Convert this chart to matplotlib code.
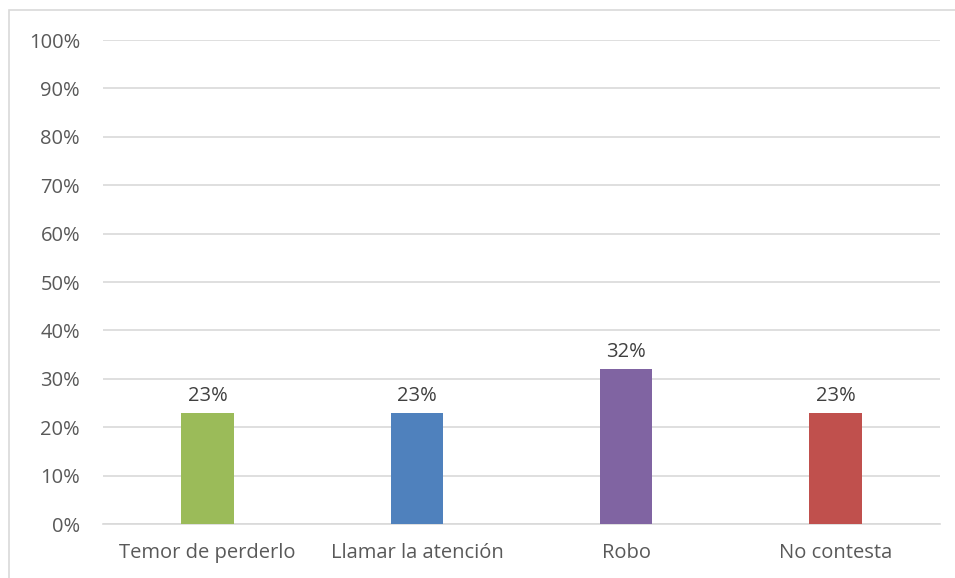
import matplotlib.pyplot as plt
from matplotlib.patches import Rectangle
from matplotlib.ticker import FuncFormatter

categories = ["Temor de perderlo", "Llamar la atención", "Robo", "No contesta"]
values = [23, 23, 32, 23]
colors = ["#9BBB59", "#4F81BD", "#8064A2", "#C0504D"]
yticks = list(range(0, 101, 10))

plt.rcParams['font.family'] = ['Open Sans', 'DejaVu Sans']

fig = plt.figure(figsize=(9.55, 5.78), dpi=100)
ax = fig.add_axes([103 / 955, 1 - 524 / 578, 837 / 955, 484 / 578])

x = range(len(categories))
ax.bar(x, values, width=0.25, color=colors, linewidth=0, zorder=3)
for xi, v in zip(x, values):
    ax.text(xi, v + 1.4, f"{v}%", ha="center", va="bottom", fontsize=14.5, color="#404040")

ax.set_xlim(-0.5, len(categories) - 0.5)
ax.set_ylim(0, 100)
ax.set_yticks(yticks)
ax.yaxis.set_major_formatter(FuncFormatter(lambda v, p: f"{int(v)}%"))
ax.set_xticks(list(x))
ax.set_xticklabels(categories)
ax.tick_params(axis="both", length=0, labelsize=14.5, labelcolor="#595959")
ax.tick_params(axis="y", pad=16.5)
ax.tick_params(axis="x", pad=14)
ax.grid(axis="y", color="#D9D9D9", linewidth=1.2, zorder=0)
for s in ["top", "right", "left"]:
    ax.spines[s].set_visible(False)
ax.spines["bottom"].set_color("#D9D9D9")
ax.spines["bottom"].set_linewidth(1.2)

# outer chart border
fig.patches.append(Rectangle((9 / 955, -0.1), 1.1, 1 - 10 / 578 + 0.1, transform=fig.transFigure,
                             fill=False, edgecolor="#D9D9D9", linewidth=1.2))

fig.savefig("out.png", dpi=100)
